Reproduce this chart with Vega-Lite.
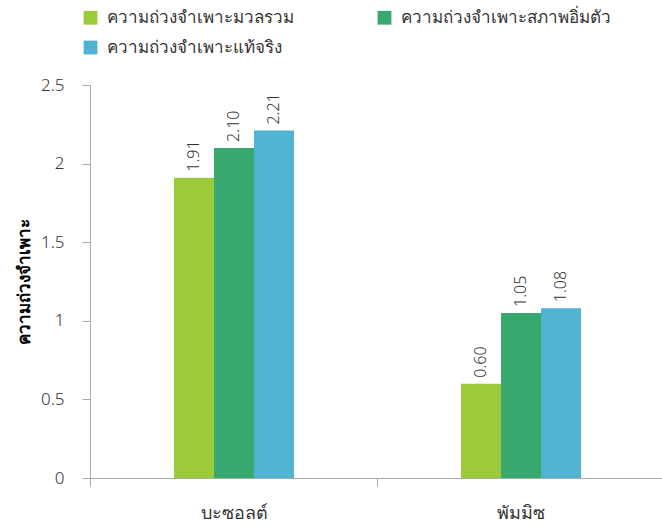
{
  "$schema": "https://vega.github.io/schema/vega-lite/v6.json",
  "autosize": {"type": "none"},
  "width": 574,
  "height": 393,
  "padding": {"left": 90, "top": 85, "right": 0, "bottom": 49},
  "config": {
    "font": "Noto Sans",
    "view": {"stroke": null},
    "axis": {"domainColor": "#aaaaaa", "tickColor": "#aaaaaa", "labelColor": "#333333", "labelFont": "Noto Sans", "labelFontWeight": 300}
  },
  "data": {
    "values": [
      {"group": "บะซอลต์", "kind": "ความถ่วงจำเพาะมวลรวม", "value": 1.91},
      {"group": "บะซอลต์", "kind": "ความถ่วงจำเพาะสภาพอิ่มตัว", "value": 2.10},
      {"group": "บะซอลต์", "kind": "ความถ่วงจำเพาะแท้จริง", "value": 2.21},
      {"group": "พัมมิซ", "kind": "ความถ่วงจำเพาะมวลรวม", "value": 0.60},
      {"group": "พัมมิซ", "kind": "ความถ่วงจำเพาะสภาพอิ่มตัว", "value": 1.05},
      {"group": "พัมมิซ", "kind": "ความถ่วงจำเพาะแท้จริง", "value": 1.08}
    ]
  },
  "encoding": {
    "x": {
      "field": "group", "type": "nominal", "sort": null,
      "scale": {"paddingInner": 0, "paddingOuter": 0},
      "axis": {"title": null, "labelAngle": 0, "labelFontSize": 18, "labelPadding": 18, "tickSize": 8, "tickBand": "extent", "domainColor": "#aaaaaa"}
    },
    "xOffset": {
      "field": "kind", "type": "nominal",
      "sort": ["ความถ่วงจำเพาะมวลรวม", "ความถ่วงจำเพาะสภาพอิ่มตัว", "ความถ่วงจำเพาะแท้จริง"],
      "scale": {"paddingInner": 0, "paddingOuter": 0, "range": [84, 204]}
    },
    "y": {
      "field": "value", "type": "quantitative",
      "scale": {"domain": [0, 2.5]},
      "axis": {"title": "ความถ่วงจำเพาะ", "titleFontSize": 17, "titleFontWeight": "bold", "titleColor": "#000000", "titlePadding": 7, "values": [0, 0.5, 1, 1.5, 2, 2.5], "format": ".1~f", "labelFontSize": 17, "labelPadding": 18, "tickSize": 8, "grid": false}
    }
  },
  "layer": [
    {
      "mark": {"type": "bar"},
      "encoding": {
        "color": {
          "field": "kind", "type": "nominal",
          "sort": ["ความถ่วงจำเพาะมวลรวม", "ความถ่วงจำเพาะสภาพอิ่มตัว", "ความถ่วงจำเพาะแท้จริง"],
          "scale": {"domain": ["ความถ่วงจำเพาะมวลรวม", "ความถ่วงจำเพาะสภาพอิ่มตัว", "ความถ่วงจำเพาะแท้จริง"], "range": ["#9bcb3b", "#38a86f", "#4fb3d1"]},
          "legend": {
            "title": null, "orient": "none", "legendX": -8, "legendY": -76,
            "direction": "horizontal", "columns": 2, "columnPadding": 82, "rowPadding": 12,
            "symbolType": "square", "symbolSize": 190, "symbolStrokeWidth": 0, "symbolOpacity": 1,
            "labelFontSize": 17, "labelColor": "#333333", "labelLimit": 400, "labelOffset": 8
          }
        }
      }
    },
    {
      "mark": {"type": "text", "angle": 270, "align": "left", "baseline": "middle", "dx": 6, "fontSize": 16, "fontWeight": 300, "color": "#333333"},
      "encoding": {
        "text": {"field": "value", "type": "quantitative", "format": ".2f"}
      }
    }
  ]
}
